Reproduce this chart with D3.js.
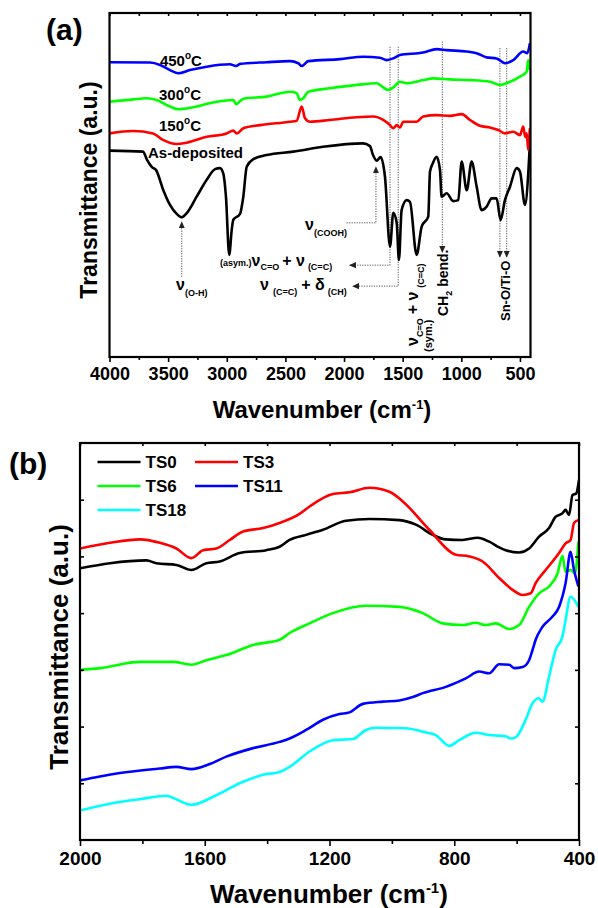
<!DOCTYPE html>
<html>
<head>
<meta charset="utf-8">
<script src="https://cdn.jsdelivr.net/npm/d3@7"></script>
<style>
body { margin:0; background:#fff; }
svg text { font-family: "Liberation Sans", Arial, sans-serif; font-weight: bold; fill:#000; }
</style>
</head>
<body>
<div id="chart"></div>
<script>
// ---------- panel (a) : wavenumber (cm-1) and transmittance (a.u.)
var wnAsDep = [4000,3714,3680,3638,3604,3541,3484,3427,3384,3342,3257,3171,3100,3058,3030,3007,2979,2958,2944,2887,2859,2830,2774,2660,2433,2180,1839,1779,1753,1722,1688,1651,1608,1580,1551,1532,1509,1466,1438,1381,1338,1282,1267,1242,1210,1182,1168,1125,1069,1026,997,954,912,869,827,784,741,699,665,628,585,528,500,457,429,415];
var tAsDep  = [6.00,5.97,5.73,5.52,5.44,4.85,4.42,4.16,4.06,4.18,4.66,5.15,5.46,5.49,5.34,4.66,2.97,3.69,3.99,4.16,4.66,5.53,5.75,5.87,5.97,6.11,6.21,6.13,5.87,5.71,5.81,5.24,3.21,4.19,3.90,2.82,4.27,4.56,4.51,2.97,3.79,4.08,5.39,5.64,5.82,5.44,4.66,4.76,4.53,4.56,5.68,4.85,5.68,4.95,4.27,4.37,4.61,4.61,3.98,4.56,4.95,5.49,5.39,4.42,5.34,6.22];

var wn150 = [4000,3800,3629,3544,3427,3342,3171,3001,2944,2915,2859,2717,2461,2404,2361,2333,2291,2120,1892,1751,1666,1608,1580,1551,1523,1495,1381,1325,1210,1097,997,926,841,756,685,628,557,500,472,455,443,429,422,415];
var t150  = [6.50,6.57,6.50,6.31,6.19,6.23,6.40,6.50,6.58,6.50,6.65,6.74,6.84,6.87,7.28,6.94,6.84,6.89,6.97,6.99,6.89,6.74,6.65,6.74,6.67,6.84,6.84,6.99,7.03,7.01,7.06,6.89,6.72,6.67,6.60,6.50,6.55,6.45,6.70,6.40,6.50,6.02,6.30,6.65];

var wn300 = [4000,3797,3683,3598,3484,3413,3286,3086,2944,2921,2859,2660,2461,2404,2376,2348,2305,2120,1892,1722,1666,1623,1580,1523,1466,1325,1239,1097,926,756,671,585,500,443,429,415];
var t300  = [7.42,7.49,7.52,7.47,7.28,7.20,7.26,7.42,7.47,7.35,7.51,7.57,7.71,7.67,7.47,7.52,7.71,7.81,7.91,7.96,7.84,7.76,7.84,8.00,7.96,8.05,8.10,8.07,8.05,8.00,7.91,8.00,8.15,8.29,8.63,8.34];

var wn450 = [4000,3655,3569,3484,3413,3314,3171,2973,2921,2887,2660,2461,2390,2361,2305,2035,1836,1694,1637,1580,1523,1325,1210,1125,954,869,784,699,628,557,472,438,415];
var t450  = [8.57,8.56,8.49,8.34,8.25,8.34,8.44,8.51,8.46,8.52,8.57,8.60,8.54,8.46,8.60,8.66,8.73,8.70,8.63,8.68,8.78,8.85,8.95,8.92,8.88,8.83,8.71,8.68,8.54,8.63,8.88,8.83,9.12];

var ticksA = [4000,3500,3000,2500,2000,1500,1000,500];
var minorA = [3750,3250,2750,2250,1750,1250,750];

// ---------- panel (b)
var wnTS0 = [2000,1904,1787,1755,1691,1643,1595,1552,1488,1403,1360,1328,1275,1221,1147,1072,976,923,869,827,773,725,688,656,635,592,560,528,496,475,453,443,432,421,409,400];
var tTS0  = [4.79,4.88,4.93,4.88,4.85,4.76,4.88,4.91,5.06,5.11,5.17,5.29,5.38,5.47,5.63,5.66,5.64,5.56,5.38,5.30,5.29,5.33,5.26,5.16,5.11,5.07,5.14,5.35,5.50,5.70,5.76,5.82,5.73,6.08,6.11,6.35];

var wnTS3 = [2000,1904,1808,1744,1691,1643,1605,1563,1520,1477,1413,1360,1296,1264,1189,1136,1072,1008,965,880,795,752,709,656,613,581,555,539,507,464,443,427,416,402];
var tTS3  = [5.14,5.24,5.30,5.24,5.14,4.97,5.11,5.14,5.29,5.44,5.50,5.59,5.75,5.88,6.10,6.13,6.21,6.14,5.97,5.47,5.03,5.00,4.91,4.62,4.41,4.32,4.35,4.53,4.76,5.06,5.23,5.29,5.59,5.64];

var wnTS6 = [2000,1936,1808,1701,1643,1595,1531,1445,1360,1328,1264,1189,1083,976,901,837,773,731,699,667,624,592,560,528,496,469,453,443,427,413,402];
var tTS6  = [3.00,3.03,3.14,3.14,3.09,3.17,3.26,3.44,3.53,3.65,3.82,4.00,4.13,4.11,4.00,3.82,3.79,3.83,3.79,3.82,3.72,3.79,4.11,4.35,4.47,4.70,5.01,4.73,4.76,4.70,5.26];

var wnTS11 = [2000,1936,1872,1744,1691,1643,1584,1531,1445,1360,1328,1275,1221,1168,1136,1093,1029,976,933,901,827,763,720,688,656,624,608,581,560,549,539,517,485,464,443,427,416,402];
var tTS11  = [1.05,1.12,1.18,1.26,1.29,1.25,1.34,1.47,1.62,1.73,1.79,1.94,2.12,2.22,2.25,2.40,2.44,2.46,2.52,2.59,2.70,2.85,2.97,2.94,3.10,3.09,3.03,3.05,3.17,3.35,3.53,3.76,3.94,4.11,4.53,5.08,4.76,4.47];

var wnTS18 = [2000,1883,1808,1723,1701,1643,1563,1488,1413,1360,1328,1264,1189,1125,1083,1051,955,901,859,816,784,731,688,635,619,603,571,549,530,517,496,475,453,443,427,411,402];
var tTS18  = [0.52,0.66,0.72,0.78,0.74,0.62,0.79,1.00,1.15,1.20,1.29,1.56,1.76,1.78,1.94,1.98,1.97,1.91,1.85,1.66,1.76,1.89,1.85,1.83,1.79,1.81,2.12,2.41,2.50,2.44,2.88,3.35,3.59,3.88,4.29,4.20,4.11];

var namesB  = ["TS0","TS3","TS6","TS11","TS18"];
var colorsB = ["#000000","#ff0000","#00ff00","#0000ff","#00ffff"];
var ticksB = [2000,1600,1200,800,400];
var minorB = [1800,1400,1000,600];

var svg = d3.select("#chart").append("svg")
    .attr("width", 598)
    .attr("height", 908);

var defs = svg.append("defs");
defs.append("marker")
    .attr("id","arr")
    .attr("viewBox","0 -4 8 8")
    .attr("refX", 7).attr("refY", 0)
    .attr("markerUnits","userSpaceOnUse")
    .attr("markerWidth", 7).attr("markerHeight", 7)
    .attr("orient","auto")
  .append("path")
    .attr("d","M0,-3.5L8,0L0,3.5Z")
    .style("fill","#222");

// ================= panel (a) =================
var xA = d3.scaleLinear().domain([4000, 410]).range([109.5, 530.5]);
var yA = d3.scaleLinear().domain([0, 10]).range([357, 13]);

defs.append("clipPath").attr("id","clipA")
  .append("rect")
    .attr("x", 109.5).attr("y", 13)
    .attr("width", 421).attr("height", 344);

var gA = svg.append("g");

var lineA = d3.line()
    .x(function(d){ return xA(d[0]); })
    .y(function(d){ return yA(d[1]); })
    .curve(d3.curveMonotoneX);

var seriesA = [
  {x: wnAsDep, y: tAsDep, c: "#000000"},
  {x: wn150, y: t150, c: "#ff0000"},
  {x: wn300, y: t300, c: "#00ff00"},
  {x: wn450, y: t450, c: "#0000ff"}
];

// dotted guide lines first, so curves sit on top
var dot = function(pts, arrow){
  var p = gA.append("path")
    .attr("d", d3.line()(pts.map(function(d){ return [xA(d[0]), yA(d[1])]; })))
    .style("fill","none")
    .style("stroke","#555")
    .style("stroke-width", 1)
    .style("stroke-dasharray","1.2,1.3");
  if (arrow) p.attr("marker-end","url(#arr)");
};
dot([[3384, 2.33],[3384, 3.92]], true);                 // O-H
dot([[1978, 3.90],[1728, 3.90],[1728, 5.52]], true);    // COOH
dot([[1608, 9.02],[1608, 2.67],[1950, 2.67]], true);    // asym C=O
dot([[1538, 9.02],[1538, 2.06],[1924, 2.06]], true);    // C=C + CH
dot([[1162, 9.17],[1162, 3.05]], true);                 // CH2 bend
dot([[671, 8.98],[671, 2.91]], true);                   // Sn-O
dot([[613, 8.98],[613, 2.91]], true);                   // Ti-O

gA.append("g").attr("clip-path","url(#clipA)")
  .selectAll("path.spec")
  .data(seriesA)
  .enter().append("path")
    .attr("class","spec")
    .attr("d", function(s){ return lineA(d3.zip(s.x, s.y)); })
    .style("fill","none")
    .style("stroke", function(s){ return s.c; })
    .style("stroke-width", 2.6)
    .style("stroke-linejoin","round");

// frame
gA.append("rect")
    .attr("x", 109.5).attr("y", 13)
    .attr("width", 421).attr("height", 344)
    .style("fill","none").style("stroke","#000").style("stroke-width", 2.2);

var axA = gA.append("g").attr("transform","translate(0,357)")
    .call(d3.axisBottom(xA).tickValues(ticksA).tickSize(5).tickPadding(5).tickFormat(d3.format("d")));
axA.selectAll("text").style("font-size","18px");
gA.append("g").attr("transform","translate(0,357)")
    .call(d3.axisBottom(xA).tickValues(minorA).tickSize(3).tickFormat(""));
gA.append("g").attr("transform","translate(0,13)")
    .call(d3.axisTop(xA).tickValues(ticksA.concat(minorA)).tickSize(-3).tickFormat(""));
gA.selectAll(".domain").remove();
gA.selectAll(".tick line").style("stroke-width", 1.6);

gA.append("text")
    .attr("x", 322).attr("y", 418)
    .attr("text-anchor","middle")
    .style("font-size","24px")
    .text("Wavenumber (cm")
  .append("tspan").attr("dy", -9).style("font-size","13px").text("-1")
  .select(function(){ return this.parentNode; })
  .append("tspan").attr("dy", 9).text(")");

gA.append("text")
    .attr("transform","translate(97,190) rotate(-90)")
    .attr("text-anchor","middle")
    .style("font-size","23px")
    .text("Transmittance (a.u.)");

svg.append("text").attr("x", 46).attr("y", 40).style("font-size","30px").text("(a)");

// curve labels
var tempLabel = function(wn, v, num){
  var t = gA.append("text").attr("x", xA(wn)).attr("y", yA(v)).style("font-size","15px");
  t.append("tspan").text(num);
  t.append("tspan").attr("dy", -7).style("font-size","10px").text("o");
  t.append("tspan").attr("dy", 7).text("C");
};
tempLabel(3570, 8.46, "450");
tempLabel(3578, 7.47, "300");
tempLabel(3578, 6.57, "150");
gA.append("text").attr("x", xA(3672)).attr("y", yA(5.78)).style("font-size","15px").text("As-deposited");

// annotation texts
var t1 = gA.append("text").attr("x", 176).attr("y", 290).style("font-size","16px");
t1.append("tspan").text("ν");
t1.append("tspan").attr("dy", 6).style("font-size","9px").text("(O-H)");

var t2 = gA.append("text").attr("x", 305).attr("y", 230).style("font-size","16px");
t2.append("tspan").text("ν");
t2.append("tspan").attr("dy", 6).style("font-size","9px").text("(COOH)");

var t3 = gA.append("text").attr("x", 220).attr("y", 266).style("font-size","16px");
t3.append("tspan").style("font-size","9px").text("(asym.)");
t3.append("tspan").text("ν");
t3.append("tspan").attr("dy", 4).style("font-size","9px").text("C=O");
t3.append("tspan").attr("dy", -4).attr("dx", 3).text("+ ν");
t3.append("tspan").attr("dy", 4).attr("dx", 3).style("font-size","9px").text("(C=C)");

var t4 = gA.append("text").attr("x", 260).attr("y", 290).style("font-size","16px");
t4.append("tspan").text("ν");
t4.append("tspan").attr("dy", 5).attr("dx", 4).style("font-size","9px").text("(C=C)");
t4.append("tspan").attr("dy", -5).attr("dx", 4).text("+ δ");
t4.append("tspan").attr("dy", 5).attr("dx", 3).style("font-size","9px").text("(CH)");

var t5 = gA.append("text").attr("transform","translate(418,346) rotate(-90)").style("font-size","16px");
t5.append("tspan").text("ν");
t5.append("tspan").attr("dy", 5).style("font-size","9px").text("C=O");
t5.append("tspan").attr("dy", -5).attr("dx", 4).text("+ ν");
t5.append("tspan").attr("dy", 6).attr("dx", 4).style("font-size","9px").text("(C=C)");
gA.append("text").attr("transform","translate(432,352) rotate(-90)").style("font-size","11px").text("(sym.)");

var t6 = gA.append("text").attr("transform","translate(448,316) rotate(-90)").style("font-size","14px");
t6.append("tspan").text("CH");
t6.append("tspan").attr("dy", 4).style("font-size","9px").text("2");
t6.append("tspan").attr("dy", -4).text(" bend.");

gA.append("text").attr("transform","translate(510,321) rotate(-90)").style("font-size","13px").text("Sn-O/Ti-O");

// ================= panel (b) =================
var xB = d3.scaleLinear().domain([2000, 400]).range([80, 579]);
var yB = d3.scaleLinear().domain([0, 7]).range([840, 443]);

defs.append("clipPath").attr("id","clipB")
  .append("rect")
    .attr("x", 80).attr("y", 443)
    .attr("width", 499).attr("height", 397);

var gB = svg.append("g");

var lineB = d3.line()
    .x(function(d){ return xB(d[0]); })
    .y(function(d){ return yB(d[1]); })
    .curve(d3.curveMonotoneX);

var seriesB = [
  d3.zip(wnTS0, tTS0),
  d3.zip(wnTS3, tTS3),
  d3.zip(wnTS6, tTS6),
  d3.zip(wnTS11, tTS11),
  d3.zip(wnTS18, tTS18)
];

gB.append("g").attr("clip-path","url(#clipB)")
  .selectAll("path")
  .data(seriesB)
  .enter().append("path")
    .attr("d", lineB)
    .style("fill","none")
    .style("stroke", function(d, i){ return colorsB[i]; })
    .style("stroke-width", 2.6)
    .style("stroke-linejoin","round");

gB.append("rect")
    .attr("x", 80).attr("y", 443)
    .attr("width", 499).attr("height", 397)
    .style("fill","none").style("stroke","#000").style("stroke-width", 2.2);

var axB = gB.append("g").attr("transform","translate(0,840)")
    .call(d3.axisBottom(xB).tickValues(ticksB).tickSize(6).tickPadding(6).tickFormat(d3.format("d")));
axB.selectAll("text").style("font-size","19px");
gB.append("g").attr("transform","translate(0,840)")
    .call(d3.axisBottom(xB).tickValues(minorB).tickSize(4).tickFormat(""));
gB.append("g").attr("transform","translate(0,443)")
    .call(d3.axisTop(xB).tickValues(ticksB.concat(minorB)).tickSize(-3).tickFormat(""));
gB.append("g").attr("transform","translate(80,0)")
    .call(d3.axisLeft(yB).tickValues([1,2,3,4,5,6]).tickSize(-4).tickFormat(""));
gB.append("g").attr("transform","translate(579,0)")
    .call(d3.axisRight(yB).tickValues([1,2,3,4,5,6]).tickSize(-4).tickFormat(""));
gB.selectAll(".domain").remove();
gB.selectAll(".tick line").style("stroke-width", 1.6);

gB.append("text")
    .attr("x", 329).attr("y", 903)
    .attr("text-anchor","middle")
    .style("font-size","26px")
    .text("Wavenumber (cm")
  .append("tspan").attr("dy", -10).style("font-size","15px").text("-1")
  .select(function(){ return this.parentNode; })
  .append("tspan").attr("dy", 10).text(")");

gB.append("text")
    .attr("transform","translate(68,647) rotate(-90)")
    .attr("text-anchor","middle")
    .style("font-size","26px")
    .text("Transmittance (a.u.)");

svg.append("text").attr("x", 9).attr("y", 474).style("font-size","30px").text("(b)");

// legend, two columns
var leg = gB.selectAll("g.leg")
    .data(namesB)
    .enter().append("g")
    .attr("class","leg")
    .attr("transform", function(d, i){
      return "translate(" + (i % 2 ? 195 : 97.5) + "," + (462 + Math.floor(i / 2) * 24) + ")";
    });
leg.append("line")
    .attr("x1", 0).attr("x2", 43)
    .style("stroke", function(d, i){ return colorsB[i]; })
    .style("stroke-width", 2.6);
leg.append("text")
    .attr("x", 48).attr("y", 6)
    .style("font-size","17px")
    .text(function(d){ return d; });
</script>
</body>
</html>
